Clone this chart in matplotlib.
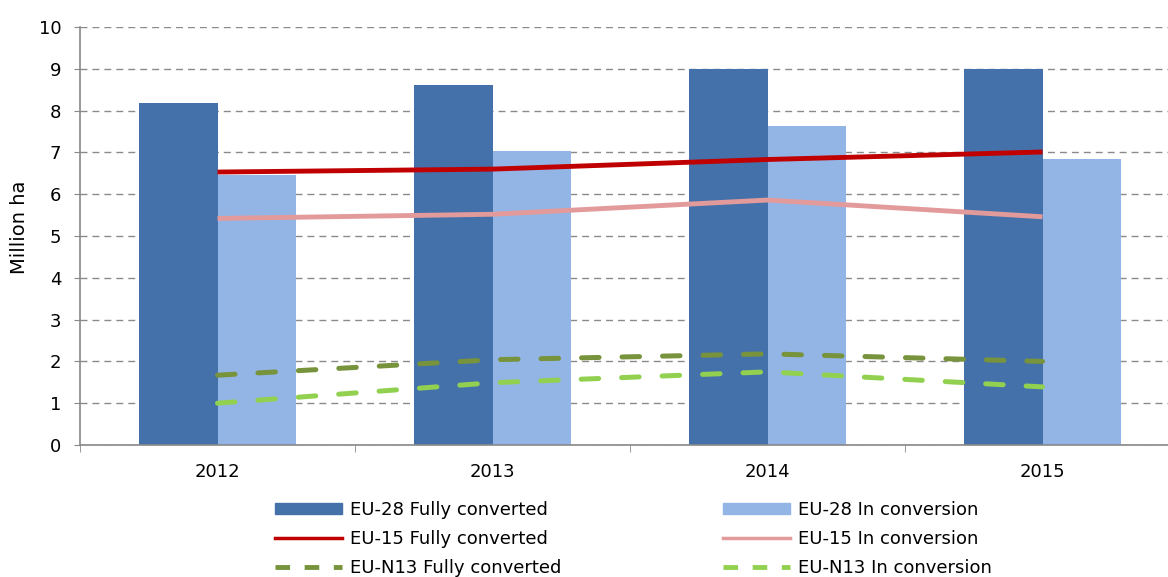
import numpy as np
import matplotlib
matplotlib.use("Agg")
import matplotlib.pyplot as plt
from matplotlib.lines import Line2D
from matplotlib.patches import Patch

# Data (million ha)
years = ["2012", "2013", "2014", "2015"]
eu28_full = [8.17, 8.62, 9.0, 9.0]
eu28_conv = [6.47, 7.03, 7.64, 6.84]
eu15_full = [6.53, 6.6, 6.83, 7.01]
eu15_conv = [5.42, 5.52, 5.86, 5.46]
n13_full = [1.67, 2.04, 2.18, 2.0]
n13_conv = [1.0, 1.49, 1.75, 1.39]

C_DARK = "#4571AA"
C_LIGHT = "#93B5E6"
C_RED = "#C00000"
C_PINK = "#E39A9B"
C_OLIVE = "#77933C"
C_LGREEN = "#92D050"

plt.rcParams["font.family"] = ["DejaVu Sans"]

fig = plt.figure(figsize=(11.68, 5.77), dpi=100)
ax = fig.add_axes([80 / 1168, 132 / 577, 1100 / 1168, 418 / 577])

x = np.arange(len(years))
w = 0.285
ax.bar(x - w / 2, eu28_full, width=w, color=C_DARK, zorder=2)
ax.bar(x + w / 2, eu28_conv, width=w, color=C_LIGHT, zorder=2)

ax.plot(x, eu15_full, color=C_RED, lw=3.5, zorder=3, solid_capstyle="butt")
ax.plot(x, eu15_conv, color=C_PINK, lw=3.5, zorder=3, solid_capstyle="butt")
ax.plot(x, n13_full, color=C_OLIVE, lw=3.6, zorder=3, dashes=(3.5, 4.6), dash_capstyle="round")
ax.plot(x, n13_conv, color=C_LGREEN, lw=3.6, zorder=3, dashes=(3.5, 4.6), dash_capstyle="round")

ax.set_xlim(-0.5, 3.5)
ax.set_ylim(0, 10)
ax.set_yticks(range(0, 11))
ax.set_xticks(x)
ax.set_xticklabels(years)
ax.set_xticks(np.arange(-0.5, 4.0, 1.0), minor=True)
ax.tick_params(axis="x", which="major", length=0, pad=13, labelsize=13)
ax.tick_params(axis="x", which="minor", length=5, color="#888888", direction="out")
ax.tick_params(axis="y", length=4.5, color="#888888", labelsize=13, pad=9)

ax.yaxis.grid(True, color="#8a8a8a", linestyle=(0, (5, 3.6)), lw=1.0, zorder=0)
ax.set_axisbelow(True)
for s in ["top", "right"]:
    ax.spines[s].set_visible(False)
for s in ["left", "bottom"]:
    ax.spines[s].set_color("#888888")
    ax.spines[s].set_linewidth(1.2)

ax.set_ylabel("Million ha", fontsize=14)
ax.yaxis.set_label_coords(-0.046, 0.52)

# legend in two columns below the chart
left_handles = [
    Patch(color=C_DARK),
    Line2D([], [], color=C_RED, lw=2.5),
    Line2D([], [], color=C_OLIVE, lw=3.5, dashes=(3, 3)),
]
left_labels = ["EU-28 Fully converted", "EU-15 Fully converted", "EU-N13 Fully converted"]
right_handles = [
    Patch(color=C_LIGHT),
    Line2D([], [], color=C_PINK, lw=2.5),
    Line2D([], [], color=C_LGREEN, lw=3.5, dashes=(3, 3)),
]
right_labels = ["EU-28 In conversion", "EU-15 In conversion", "EU-N13 In conversion"]

common = dict(loc="upper left", frameon=False, fontsize=13, handlelength=3.7,
              handleheight=0.55, handletextpad=0.45, labelspacing=0.62, borderaxespad=0,
              borderpad=0)
fig.legend(left_handles, left_labels, bbox_to_anchor=(275 / 1168, 1 - 501 / 577), **common)
fig.legend(right_handles, right_labels, bbox_to_anchor=(723 / 1168, 1 - 501 / 577), **common)

fig.savefig("out.png", dpi=100)
